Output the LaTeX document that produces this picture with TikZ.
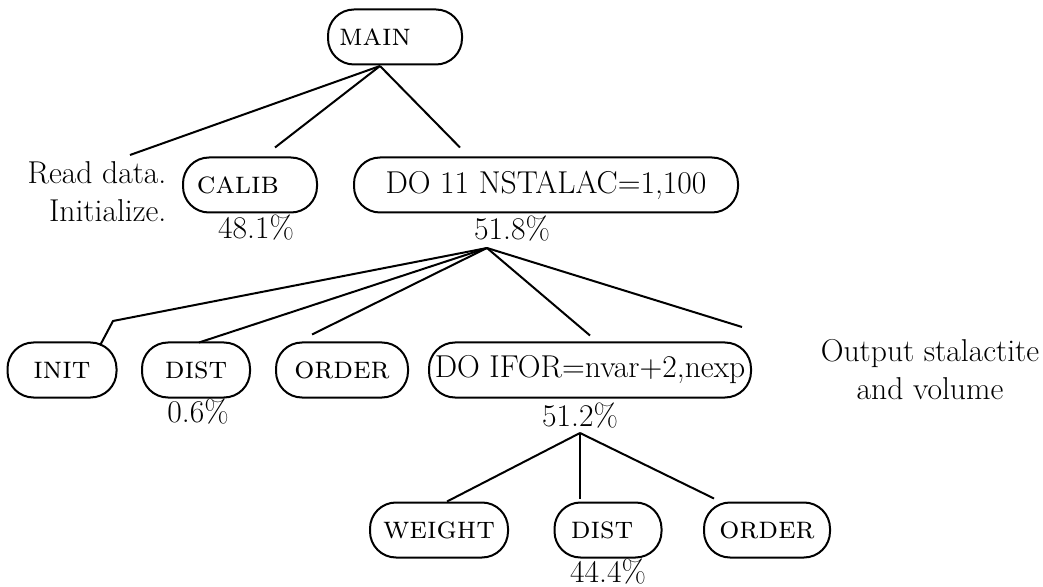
\documentclass[tikz,border=0pt]{standalone}
\usepackage{tikz}
\tikzstyle{mybox} = [rectangle, draw, rounded corners=13pt, minimum height=27.5pt, inner sep=0pt]
\tikzstyle{lbl} = [inner sep=0pt]
\tikzset{every picture/.style={line width=1pt}, every node/.style={font=\fontsize{15.8}{19}\selectfont}}

\begin{document}
\begin{tikzpicture}[x=0.5pt, y=-0.5pt]
\useasboundingbox (0,0) rectangle (1043,587);
% top level
\node[mybox, minimum width=67pt] (main) at (395, 37) {\textsc{main}\kern20pt};
\node[mybox, minimum width=67pt] (calib) at (250, 185) {\textsc{calib}\kern12pt};
\node[mybox, minimum width=192pt] (do11) at (546, 185) {DO 11 NSTALAC=1,100};
\node[lbl, align=right] (read) at (97, 192) {Read data.\\Initialize.};
\node[lbl] (pcalib) at (256, 228) {48.1\%};
\node[lbl] (pdo11) at (512, 229) {51.8\%};
% middle level
\node[mybox, minimum width=54.5pt] (init) at (62, 370) {\textsc{init}};
\node[mybox, minimum width=54pt] (dista) at (196, 370) {\textsc{dist}};
\node[mybox, minimum width=66pt] (ordera) at (342, 370) {\textsc{order}};
\node[mybox, minimum width=161pt] (ifor) at (590, 370) {DO IFOR=nvar+2,nexp};
\node[lbl, align=center] (out) at (930, 370) {Output stalactite\\and volume};
\node[lbl] (pdist) at (198, 412) {0.6\%};
\node[lbl] (pifor) at (580, 416) {51.2\%};
% bottom level
\node[mybox, minimum width=69pt] (weight) at (439, 530) {\textsc{weight}};
\node[mybox, minimum width=53.5pt] (distb) at (608, 530) {\textsc{dist}\kern6pt};
\node[mybox, minimum width=63pt] (orderb) at (767, 530) {\textsc{order}};
\node[lbl] (pdistb) at (608, 572) {44.4\%};
% branch points
\coordinate (j1) at (380, 66);
\coordinate (j2) at (487, 248);
\coordinate (j3) at (580, 433);
\coordinate (r) at (130, 155);
\coordinate (k) at (113, 321);
\coordinate (o) at (742, 327);
\draw (j1) -- (r);
\draw (j1) -- ([xshift=12.5pt, yshift=4.5pt]calib.north);
\draw (j1) -- ([xshift=-43pt, yshift=4.5pt]do11.north);
\draw (j2) -- (k) -- ([xshift=19pt, yshift=-2pt]init.north);
\draw (j2) -- ([xshift=1.5pt, yshift=-0.5pt]dista.north);
\draw (j2) -- ([xshift=-15pt, yshift=3.5pt]ordera.north);
\draw (j2) -- ([yshift=3pt]ifor.north);
\draw (j2) -- (o);
\draw (j3) -- ([xshift=4pt]weight.north);
\draw (j3) -- ([xshift=-14pt, yshift=1.5pt]distb.north);
\draw (j3) -- ([xshift=-26.5pt, yshift=1.5pt]orderb.north);
\end{tikzpicture}
\end{document}
